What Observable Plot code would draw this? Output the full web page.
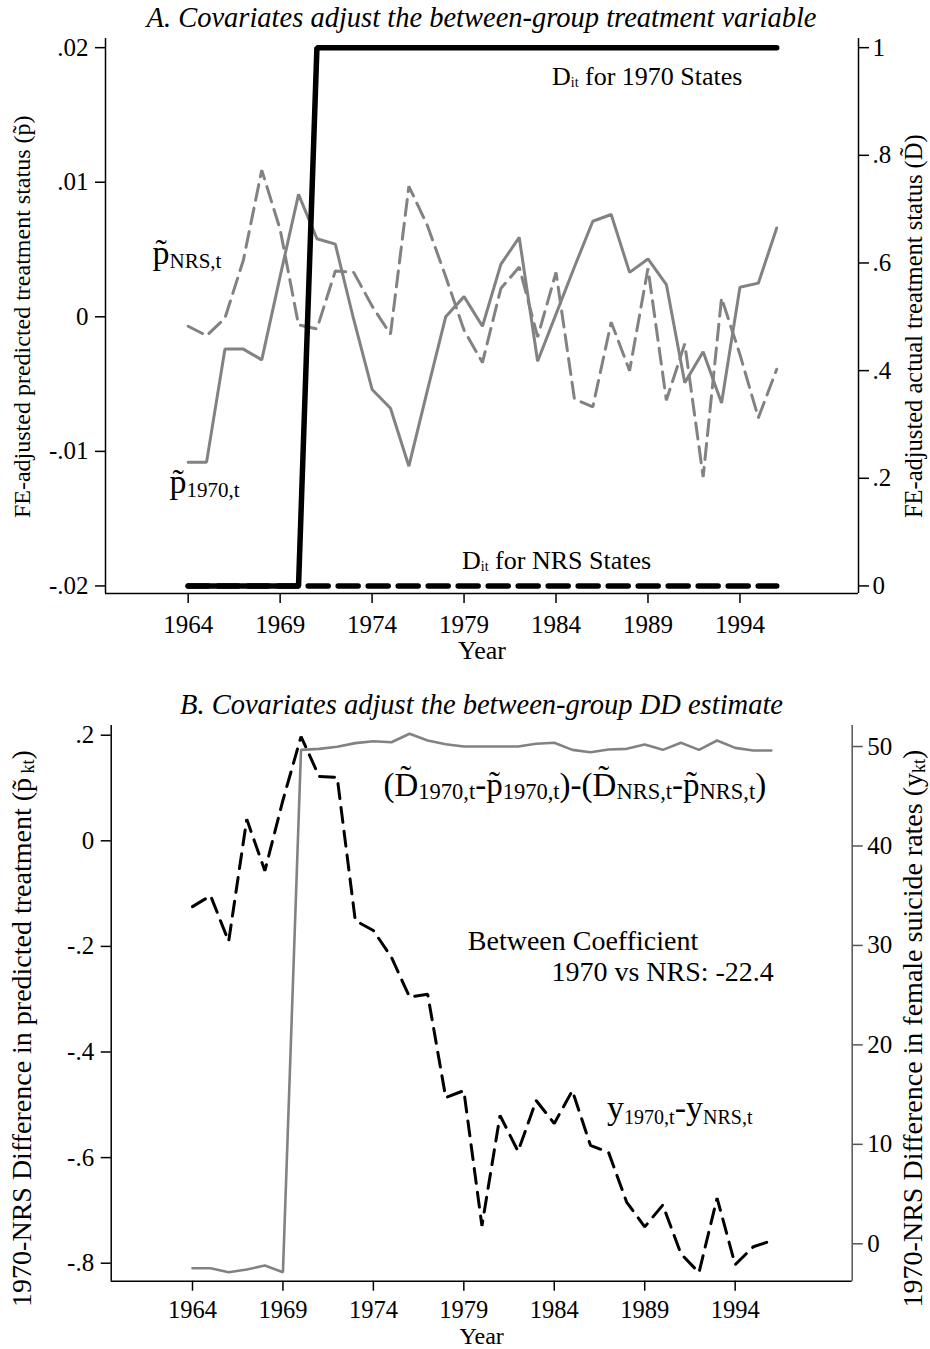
<!DOCTYPE html>
<html><head><meta charset="utf-8">
<script src="https://cdn.jsdelivr.net/npm/d3@7"></script>
<script src="https://cdn.jsdelivr.net/npm/@observablehq/plot@0.6"></script>
<style>
body{margin:0;background:#fff;}
#wrap{position:relative;width:930px;height:1349px;overflow:hidden;background:#fff;font-family:"Liberation Serif","Times New Roman",Times,serif;}
.title{position:absolute;z-index:2;font-style:italic;font-size:28.5px;line-height:28.5px;text-align:center;white-space:nowrap;color:#000;}
.panel{position:absolute;left:0;z-index:1;}
</style></head><body>
<div id="wrap">
  <div class="panel" id="pA" style="top:30px"></div>
  <div class="panel" id="pB" style="top:713px"></div>
  <div class="title" style="left:105px;width:753px;top:3.5px">A. Covariates adjust the between-group treatment variable</div>
  <div class="title" style="left:111px;width:741px;top:691px">B. Covariates adjust the between-group DD estimate</div>
</div>
<script>
const FONT = '"Liberation Serif","Times New Roman",Times,serif';

// ---------- data ----------
const years = [1964,1965,1966,1967,1968,1969,1970,1971,1972,1973,1974,1975,1976,1977,1978,1979,1980,1981,1982,1983,1984,1985,1986,1987,1988,1989,1990,1991,1992,1993,1994,1995,1996];

// Panel A: FE-adjusted predicted treatment status (left axis)
const p1970 = [-0.0108,-0.0108,-0.0024,-0.0024,-0.0032,0.0030,0.0091,0.0058,0.0054,-0.0002,-0.0054,-0.0068,-0.0111,-0.0055,0.0000,0.0015,-0.0007,0.0039,0.0059,-0.0033,0.0002,0.0037,0.0071,0.0076,0.0033,0.0043,0.0024,-0.0049,-0.0026,-0.0064,0.0022,0.0025,0.0066];
const pNRS  = [-0.0007,-0.0014,-0.0001,0.0042,0.0109,0.0065,-0.0006,-0.0009,0.0034,0.0033,0.0008,-0.0013,0.0097,0.0068,0.0030,-0.0010,-0.0034,0.0021,0.0037,-0.0015,0.0033,-0.0061,-0.0067,-0.0004,-0.0040,0.0036,-0.0062,-0.0020,-0.0119,0.0014,-0.0028,-0.0075,-0.0039];
// Panel A: actual treatment status (right axis)
const D1970 = [0,0,0,0,0,0,0,1,1,1,1,1,1,1,1,1,1,1,1,1,1,1,1,1,1,1,1,1,1,1,1,1,1];
const DNRS  = [0,0,0,0,0,0,0,0,0,0,0,0,0,0,0,0,0,0,0,0,0,0,0,0,0,0,0,0,0,0,0,0,0];

// Panel B: 1970-NRS difference in predicted treatment (left axis)
const predDiff = [-0.8095,-0.8095,-0.817,-0.812,-0.8044,-0.817,0.1723,0.1742,0.178,0.185,0.1886,0.1867,0.2027,0.190,0.183,0.1786,0.1786,0.1786,0.1786,0.1837,0.1856,0.1723,0.1678,0.1729,0.1742,0.1824,0.1723,0.1856,0.1723,0.190,0.176,0.171,0.171];
// Panel B: 1970-NRS difference in female suicide rates (right axis)
const suicideDiff = [33.9,35.0,30.4,42.7,37.5,44.6,51.0,47.0,46.9,32.5,31.5,28.8,24.8,25.1,14.7,15.4,1.8,12.9,9.3,14.4,12.1,15.4,9.9,9.2,4.2,1.7,3.9,-1.0,-2.9,4.6,-2.1,-0.3,0.3];

// ticks
const xTicks = [1964,1969,1974,1979,1984,1989,1994];
const xTickLabels = ["1964","1969","1974","1979","1984","1989","1994"];
const aLeftTicks = [-0.02,-0.01,0,0.01,0.02];
const aLeftLabels = ["-.02","-.01","0",".01",".02"];
const aRightTicks = [0,0.2,0.4,0.6,0.8,1];
const aRightLabels = ["0",".2",".4",".6",".8","1"];
const bLeftTicks = [-0.8,-0.6,-0.4,-0.2,0,0.2];
const bLeftLabels = ["-.8","-.6","-.4","-.2","0",".2"];
const bRightTicks = [0,10,20,30,40,50];
const bRightLabels = ["0","10","20","30","40","50"];

// ---------- axis alignment ----------
const aRightToLeft = d => d * 0.04 - 0.02;          // 0 <-> -.02, 1 <-> .02
const bRightToLeft = r => -0.76326 + 0.018837 * r;  // 0 <-> -.763, 50 <-> .179

const GRAY = "#828282";

// ---------- rich text helper ----------
const richMap = new Map();
function rich(spec) {
  const plain = spec.segs.map(s => s[0]).join("");
  richMap.set(plain, spec);
  return plain;
}
function richify(svg) {
  svg.querySelectorAll("text").forEach(t => {
    const s = richMap.get(t.textContent);
    if (!s || s.segs.every(g => g[1] === "n")) return;
    t.textContent = "";
    let cur = 0;
    for (const [str, kind] of s.segs) {
      const ts = document.createElementNS("http://www.w3.org/2000/svg", "tspan");
      const target = kind === "s" ? s.shift : 0;
      ts.setAttribute("font-size", kind === "s" ? s.sub : s.main);
      if (target !== cur) { ts.setAttribute("dy", target - cur); cur = target; }
      ts.textContent = str;
      t.appendChild(ts);
    }
  });
}
function label(spec) {
  const txt = rich(spec);
  const opts = {text: () => txt, textAnchor: spec.anchor || "start", lineAnchor: "bottom", fontSize: spec.main, fill: "black"};
  if (spec.frameAnchor) {
    Object.assign(opts, {frameAnchor: spec.frameAnchor, y: () => spec.y, rotate: -90, dx: spec.dx, textAnchor: "middle"});
  } else {
    Object.assign(opts, {x: () => spec.x, y: () => spec.y});
  }
  return Plot.text([spec], opts);
}

function axisLines(xDom, yDom, rightColor) {
  return [
    Plot.ruleX([xDom[0]], {stroke: "black", strokeWidth: 1.5}),
    Plot.ruleX([xDom[1]], {stroke: rightColor, strokeWidth: 1.5}),
    Plot.ruleY([yDom[0]], {stroke: "black", strokeWidth: 1.5})
  ];
}
function xAxis(pad, size) {
  return Plot.axisX(xTicks, {anchor: "bottom", label: null, tickSize: 10, tickPadding: pad, strokeWidth: 1.5, fontSize: size,
    tickFormat: d => xTickLabels[xTicks.indexOf(d)]});
}

// ---------- Panel A ----------
const xDomA = [1959.505, 2000.446];
const yDomA = [-0.020562, 0.020681];
const aRightPos = aRightTicks.map(aRightToLeft);
const rowsA = years.map((yr, i) => ({yr, p1970: p1970[i], pNRS: pNRS[i], D1970: D1970[i], DNRS: DNRS[i]}));

const plotA = Plot.plot({
  width: 930, height: 640,
  marginTop: 8, marginBottom: 77, marginLeft: 105, marginRight: 72,
  x: {domain: xDomA, axis: null, label: null},
  y: {domain: yDomA, axis: null, label: null},
  style: {fontFamily: FONT, fontSize: "25px", background: "transparent", overflow: "visible", color: "black"},
  marks: [
    ...axisLines(xDomA, yDomA, "black"),
    xAxis(12, 25),
    Plot.axisY(aLeftTicks, {anchor: "left", label: null, tickSize: 10, tickPadding: 7, strokeWidth: 1.5, fontSize: 25,
      tickFormat: d => aLeftLabels[aLeftTicks.indexOf(d)]}),
    Plot.axisY(aRightPos, {anchor: "right", label: null, tickSize: 10, tickPadding: 4, strokeWidth: 1.5, fontSize: 25, textAnchor: "start",
      tickFormat: d => aRightLabels[aRightPos.indexOf(d)]}),
    Plot.line(rowsA, {x: "yr", y: "pNRS", stroke: GRAY, strokeWidth: 3, strokeDasharray: "16,8", strokeLinejoin: "miter"}),
    Plot.line(rowsA, {x: "yr", y: "p1970", stroke: GRAY, strokeWidth: 3, strokeLinejoin: "miter"}),
    Plot.line(rowsA, {x: "yr", y: d => aRightToLeft(d.DNRS), stroke: "black", strokeWidth: 5.5, strokeDasharray: "20,10"}),
    Plot.line(rowsA, {x: "yr", y: d => aRightToLeft(d.D1970), stroke: "black", strokeWidth: 5.5, strokeLinejoin: "miter"}),
    label({x: 1983.78, y: 0.01719, main: 26, sub: 14, shift: 2, segs: [["D","n"],["it","s"],[" for 1970 States","n"]]}),
    label({x: 1978.89, y: -0.01873, main: 26, sub: 14, shift: 2, segs: [["D","n"],["it","s"],[" for NRS States","n"]]}),
    label({x: 1962.06, y: 0.00396, main: 34, sub: 21, shift: 4, segs: [["p\u0303","n"],["NRS,t","s"]]}),
    label({x: 1962.98, y: -0.01313, main: 34, sub: 21, shift: 4, segs: [["p\u0303","n"],["1970,t","s"]]}),
    label({frameAnchor: "left", y: 0, dx: -76, main: 24, segs: [["FE-adjusted predicted treatment status (p\u0303)","n"]]}),
    label({frameAnchor: "right", y: -0.0007, dx: 63, main: 24.5, segs: [["FE-adjusted actual treatment status (D\u0303)","n"]]}),
    Plot.text(["Year"], {frameAnchor: "bottom", dy: 65, lineAnchor: "bottom", fontSize: 26, text: d => d})
  ]
});
richify(plotA);
document.getElementById("pA").appendChild(plotA);

// ---------- Panel B ----------
const xDomB = [1959.506, 2000.47];
const yDomB = [-0.8341, 0.2184];
const bRightPos = bRightTicks.map(bRightToLeft);
const rowsB = years.map((yr, i) => ({yr, pred: predDiff[i], rate: suicideDiff[i]}));

const plotB = Plot.plot({
  width: 930, height: 636,
  marginTop: 12, marginBottom: 68.3, marginLeft: 110.7, marginRight: 78.3,
  x: {domain: xDomB, axis: null, label: null},
  y: {domain: yDomB, axis: null, label: null},
  style: {fontFamily: FONT, fontSize: "25px", background: "transparent", overflow: "visible", color: "black"},
  marks: [
    ...axisLines(xDomB, yDomB, "#555"),
    xAxis(9.5, 24.5),
    Plot.axisY(bLeftTicks, {anchor: "left", label: null, tickSize: 10, tickPadding: 7, strokeWidth: 1.5, fontSize: 25,
      tickFormat: d => bLeftLabels[bLeftTicks.indexOf(d)]}),
    Plot.axisY(bRightPos, {anchor: "right", label: null, tickSize: 10, tickPadding: 5, strokeWidth: 1.5, fontSize: 25, stroke: "#555", fill: "black", textAnchor: "start",
      tickFormat: d => bRightLabels[bRightPos.indexOf(d)]}),
    Plot.line(rowsB, {x: "yr", y: "pred", stroke: GRAY, strokeWidth: 2.6, strokeLinejoin: "miter"}),
    Plot.line(rowsB, {x: "yr", y: d => bRightToLeft(d.rate), stroke: "black", strokeWidth: 3, strokeDasharray: "15,9", strokeLinejoin: "miter"}),
    label({x: 1974.558, y: 0.0858, main: 33, sub: 22.5, shift: 3, segs: [["(D\u0303","n"],["1970,t","s"],["-p\u0303","n"],["1970,t","s"],[")-(D\u0303","n"],["NRS,t","s"],["-p\u0303","n"],["NRS,t","s"],[")","n"]]}),
    label({x: 1979.22, y: -0.2064, main: 28, segs: [["Between Coefficient","n"]]}),
    label({x: 1996.14, y: -0.2646, main: 28, anchor: "end", segs: [["1970 vs NRS: -22.4","n"]]}),
    label({x: 1986.92, y: -0.5273, main: 34, sub: 20, shift: 4.5, segs: [["y","n"],["1970,t","s"],["-y","n"],["NRS,t","s"]]}),
    label({frameAnchor: "left", y: -0.3555, dx: -80, main: 28, sub: 18, shift: 3, segs: [["1970-NRS Difference in predicted treatment (p\u0303","n"],[" kt","s"],[")","n"]]}),
    label({frameAnchor: "right", y: -0.3555, dx: 70, main: 28, sub: 18, shift: 3, segs: [["1970-NRS Difference in female suicide rates (y","n"],["kt","s"],[")","n"]]}),
    Plot.text(["Year"], {frameAnchor: "bottom", dy: 62.6, lineAnchor: "bottom", fontSize: 24, text: d => d})
  ]
});
richify(plotB);
document.getElementById("pB").appendChild(plotB);
</script>
</body></html>
